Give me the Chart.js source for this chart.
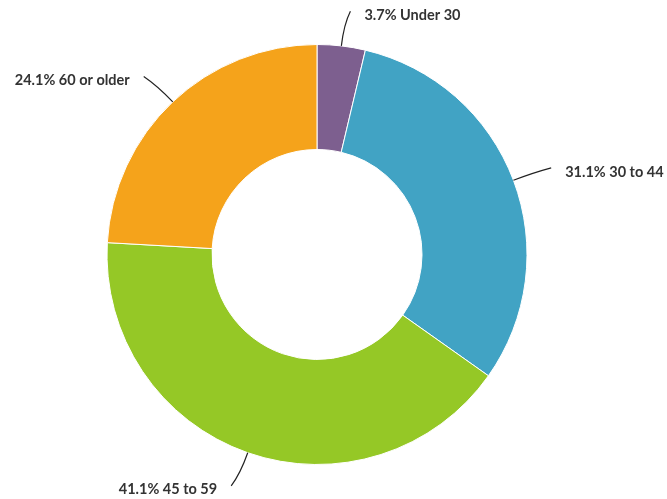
<!DOCTYPE html>
<html>
<head>
<meta charset="utf-8">
<script src="https://cdn.jsdelivr.net/npm/chart.js@4"></script>
<style>
  html, body { margin: 0; padding: 0; background: #ffffff; }
  #wrap { width: 667px; height: 499px; position: relative; }
</style>
</head>
<body>
<div id="wrap"><canvas id="chart" width="667" height="499"></canvas></div>
<script>
// Age groups and their shares (%)
const categories = ["Under 30", "30 to 44", "45 to 59", "60 or older"];
const shares = [3.7, 31.1, 41.1, 24.1];
const sliceColors = ["#7d5f8f", "#41a3c4", "#95c826", "#f5a31b"];

// Curved leader lines with "xx.x% Label" text outside each slice
const leaderLabels = {
  id: "leaderLabels",
  afterDatasetsDraw(chart) {
    const ctx = chart.ctx;
    const meta = chart.getDatasetMeta(0);
    ctx.save();
    ctx.font = "bold 14.5px Lato, 'Open Sans', sans-serif";
    ctx.fillStyle = "#333333";
    ctx.strokeStyle = "#222222";
    ctx.lineWidth = 1.2;
    meta.data.forEach((arc, i) => {
      const p = arc.getProps(["x", "y", "startAngle", "endAngle", "outerRadius"], true);
      const mid = (p.startAngle + p.endAngle) / 2;
      const dx = Math.cos(mid), dy = Math.sin(mid);
      const side = dx >= 0 ? 1 : -1;
      const r = p.outerRadius;
      const sx = p.x + dx * r, sy = p.y + dy * r;
      const cx = p.x + dx * (r + 22), cy = p.y + dy * (r + 22);
      const ex = p.x + dx * (r + 35) + side * 5, ey = p.y + dy * (r + 35);
      ctx.beginPath();
      ctx.moveTo(sx, sy);
      ctx.quadraticCurveTo(cx, cy, ex, ey);
      ctx.stroke();
      const text = shares[i].toFixed(1) + "% " + categories[i];
      ctx.textBaseline = "middle";
      ctx.textAlign = side > 0 ? "left" : "right";
      ctx.fillText(text, ex + side * 14, ey + 4);
    });
    ctx.restore();
  }
};

new Chart(document.getElementById("chart"), {
  type: "doughnut",
  data: {
    labels: categories,
    datasets: [{
      data: shares,
      backgroundColor: sliceColors,
      borderColor: "#ffffff",
      borderWidth: 1,
      hoverOffset: 0
    }]
  },
  options: {
    responsive: false,
    animation: false,
    cutout: "50%",
    layout: { padding: { left: 106, right: 139, top: 44, bottom: 34 } },
    plugins: {
      legend: { display: false },
      tooltip: { enabled: false }
    }
  },
  plugins: [leaderLabels]
});
</script>
</body>
</html>
